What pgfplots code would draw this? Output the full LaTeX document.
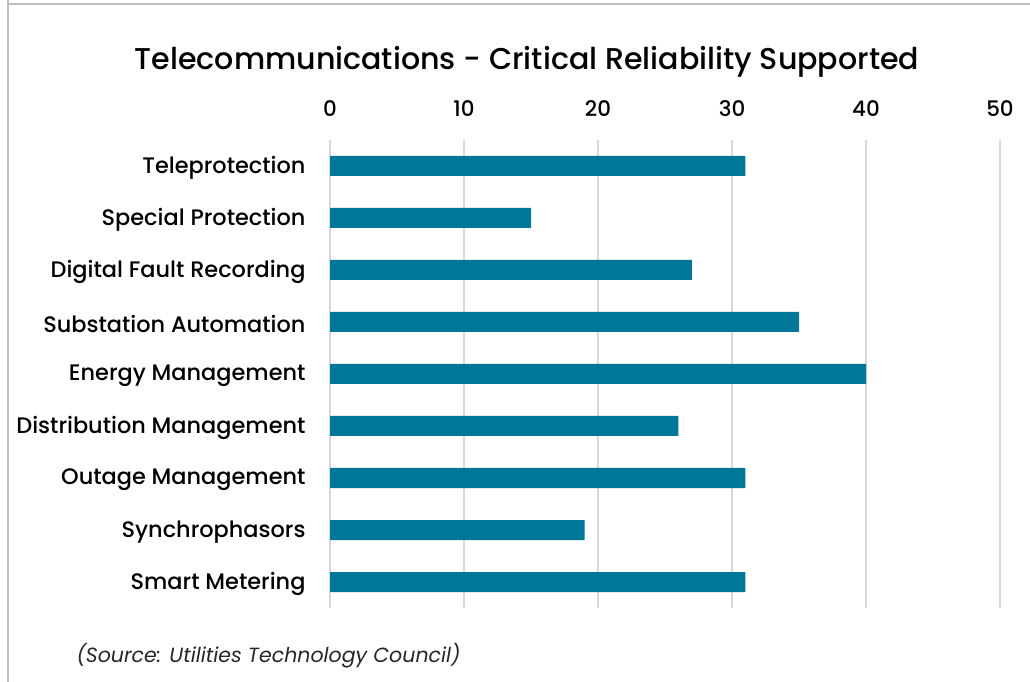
\documentclass[border=0pt]{standalone}
\usepackage{pgfplots}
\pgfplotsset{compat=1.18}
\usepackage{fontspec}
\setmainfont{Poppins}[UprightFont={* Medium}, ItalicFont={* Italic}]
\definecolor{barc}{RGB}{0,118,153}
\definecolor{gridc}{RGB}{217,217,217}
\definecolor{framec}{RGB}{191,191,191}
\begin{document}
\begin{tikzpicture}[x=1bp,y=1bp]
\path[use as bounding box] (0,0) rectangle (1030,682);
\draw[framec, line width=2bp] (8,682) -- (8,678) -- (1030,678);
\draw[framec, line width=2bp] (8,678) -- (8,0);
\begin{axis}[
  at={(330bp,74bp)}, anchor=south west,
  scale only axis, width=670bp, height=468bp,
  xmin=0, xmax=50, ymin=-0.5, ymax=8.5,
  y dir=reverse,
  xtick={0,10,20,30,40,50},
  ytick={0,1,2,3,4,5,6,7,8},
  yticklabels={Teleprotection,Special Protection,Digital Fault Recording,Substation Automation,Energy Management,Distribution Management,Outage Management,Synchrophasors,Smart Metering},
  xticklabel pos=upper,
  major tick length=0pt,
  axis line style={draw=none},
  xmajorgrids, grid style={gridc, line width=1.5bp},
  /pgf/number format/assume math mode=true,
  xticklabel style={font=\fontsize{21.5}{25}\selectfont, yshift=20bp},
  yticklabel style={font=\fontsize{22.5}{26}\selectfont, xshift=-21bp, yshift=-2bp},
  xbar, bar width=20bp,
]
\addplot[fill=barc, draw=none] coordinates {
 (31,0) (15,1) (27,2) (35,3) (40,4) (26,5) (31,6) (19,7) (31,8)
};
\end{axis}
\node[anchor=base, font=\fontsize{30.2}{36}\selectfont] at (527,612) {Telecommunications - Critical Reliability Supported};
\node[anchor=base west, font=\fontsize{20.6}{24}\selectfont\itshape, text=black!85] at (73,19) {(Source: Utilities Technology Council)};
\end{tikzpicture}
\end{document}
